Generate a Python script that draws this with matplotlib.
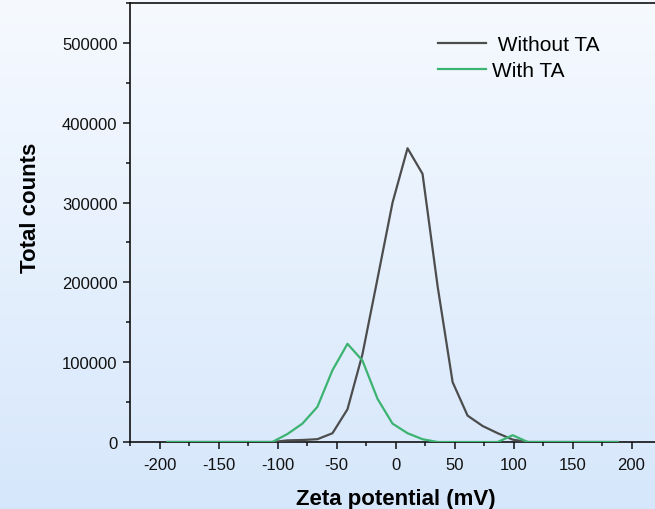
import numpy as np
import matplotlib
matplotlib.use("Agg")
import matplotlib.pyplot as plt
from matplotlib.ticker import MultipleLocator

plt.rcParams['font.family'] = ['Liberation Sans', 'DejaVu Sans']
plt.rcParams['axes.unicode_minus'] = False

zeta = [-193.5, -180.8, -168.0, -155.3, -142.6, -129.8, -117.1, -104.4, -91.6, -78.9,
        -66.2, -53.4, -40.7, -28.0, -15.2, -2.5, 10.2, 22.9, 35.7, 48.4,
        61.1, 73.9, 86.6, 99.3, 112.1, 124.8, 137.5, 150.2, 163.0, 175.7, 188.4]
without_ta = [0, 0, 0, 0, 0, 0, 0, 0, 2000, 2500,
              3500, 11000, 41000, 110000, 205000, 300000, 368000, 336000, 195000, 75000,
              33000, 20000, 11000, 3000, 0, 0, 0, 0, 0, 0, 0]
with_ta = [0, 0, 0, 0, 0, 0, 0, 0, 10000, 23000,
           44000, 90000, 123000, 102000, 54000, 23000, 11000, 3500, 0, 0,
           0, 0, 0, 8500, 0, 0, 0, 0, 0, 0, 0]

W, H = 655, 510
fig = plt.figure(figsize=(W / 100, H / 100), dpi=100)

# background gradient
bg = fig.add_axes([0, 0, 1, 1], zorder=-10)
top = np.array([0.965, 0.980, 1.0])
bot = np.array([0.840, 0.905, 0.985])
t = np.linspace(0, 1, 256)[:, None]
grad = (top * (1 - t) + bot * t)[:, None, :]
bg.imshow(grad, aspect='auto', extent=[0, 1, 0, 1])
bg.axis('off')

ax = fig.add_axes([130 / W, (H - 443) / H, (661 - 130) / W, (443 - 4) / H])
ax.patch.set_alpha(0)

ax.plot(zeta, without_ta, color='#4d4d4d', lw=1.6, label=' Without TA', zorder=3)
ax.plot(zeta, with_ta, color='#3cb371', lw=1.6, label='With TA', zorder=4)

ax.set_xlim(-225, 225)
ax.set_ylim(0, 550000)
ax.xaxis.set_minor_locator(MultipleLocator(25))
ax.yaxis.set_minor_locator(MultipleLocator(50000))
ax.set_xticks([-200, -150, -100, -50, 0, 50, 100, 150, 200])
ax.set_yticks([0, 100000, 200000, 300000, 400000, 500000])

for s in ['left', 'top', 'bottom']:
    ax.spines[s].set_linewidth(1.2)
    ax.spines[s].set_color('#111111')
ax.spines['right'].set_visible(False)

ax.tick_params(axis='both', which='major', direction='out', length=5, width=1.1,
               labelsize=12, color='#111111', labelcolor='#111111')
ax.tick_params(axis='x', which='major', pad=5.5)
ax.tick_params(axis='y', which='major', pad=4)
ax.tick_params(axis='both', which='minor', direction='out', length=3, width=1.1, color='#111111')
ax.tick_params(top=False, right=False, which='both')

ax.set_xlabel('Zeta potential (mV)', fontsize=16, fontweight='bold', labelpad=12)
ax.set_ylabel('Total counts', fontsize=16, fontweight='bold')
ax.yaxis.set_label_coords(-(130 - 41) / (661 - 130), (443 - 208) / 439)

leg = ax.legend(loc='upper left', bbox_to_anchor=(438 / W, (H - 36) / H),
                bbox_transform=fig.transFigure, frameon=False, fontsize=15,
                handlelength=2.3, handletextpad=0.3, labelspacing=0.33,
                borderaxespad=0, borderpad=0)

fig.savefig('out.png', dpi=100)
